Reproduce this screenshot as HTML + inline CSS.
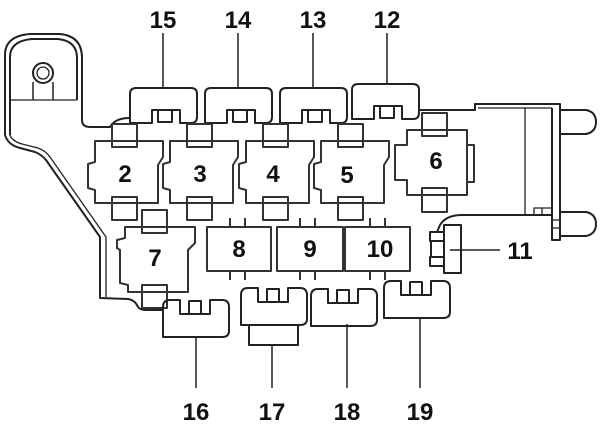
<!DOCTYPE html>
<html><head><style>
html,body{margin:0;padding:0;background:#fff;}
svg{display:block;}
text{font-family:"Liberation Sans",Arial,sans-serif;font-weight:bold;fill:#111;}
</style></head><body>
<svg width="600" height="433" viewBox="0 0 600 433" xmlns="http://www.w3.org/2000/svg">
<g fill="none" stroke="#222" stroke-width="2" stroke-linejoin="round">
<!-- left bracket -->
<path d="M5,135 L5,55 Q5,36 30,34 L60,34 Q82,36 82,58 L82,120 Q82,127 90,127 L110,127 Q115,118 130,118"/>
<path d="M10,135 L10,57 Q10,41 32,39 L58,39 Q77,41 77,58 L77,100"/>
<path d="M10,100 L77,100" stroke-width="1.3"/>
<path d="M33,100 L33,82 M53,100 L53,82" stroke-width="1.5"/>
<circle cx="43" cy="73" r="10" stroke-width="2"/>
<circle cx="43" cy="73" r="6" stroke-width="1.3"/>
<path d="M5,135 Q8,145 20,148 L35,152 Q42,155 46,160 L100,237 L100,298 L128,299 Q135,300 138,307 Q140,310 146,310 L163,310"/>
<path d="M10,135 Q12,141 22,144 L38,148 Q46,151 50,157 L106,237 L106,297" stroke-width="1.3"/>
<!-- connector right -->
<path d="M419,110 L475,110 L475,104 L560,104 L560,240 L552,240 L552,108"/>
<path d="M478,108 L552,108" stroke-width="1.3"/>
<path d="M525,108 L525,215" stroke-width="1.3"/>
<path d="M552,215 L462,215 Q446,215 440,225 L437,232"/>
<path d="M560,110 L586,110 Q596,112 596,122 Q596,132 586,134 L560,134"/>
<path d="M560,212 L586,212 Q596,214 596,224 Q596,234 586,236 L560,236"/>
<path d="M534,215 L534,208 L552,208 M542,208 L542,215 M552,220 L560,220 M552,228 L560,228" stroke-width="1.3"/>
<!-- 11 -->
<rect x="444" y="225" width="17" height="48"/>
<rect x="430" y="232" width="14" height="9"/>
<rect x="430" y="257" width="14" height="9"/>
<path d="M431,241 L431,257"/>
<path d="M450,250 L500,250" stroke-width="1.5"/>
<!-- top fuses -->
<g id="tf">
<path d="M130,123 L130,94 Q130,88 136,88 L191,88 Q197,88 197,94 L197,117 Q197,123 191,123 L180,123 L180,110 L152,110 L152,123 Z"/>
<path d="M158,110 L158,122 L172,122 L172,110"/>
</g>
<use href="#tf" x="75"/>
<use href="#tf" x="150"/>
<use href="#tf" x="222" y="-4"/>
<path d="M163,33 L163,88 M238,33 L238,88 M313,33 L313,88 M387,33 L387,84" stroke-width="1.5"/>
<!-- relays 2,3,4,5 -->
<g id="rl">
<path d="M95,141 L163,141 L163,157 L158,165 L158,203 L95,203 L95,190 L88,188 L88,164 L95,162 Z" stroke="#333"/>
<rect x="112" y="124" width="25" height="23" stroke="#333"/>
<rect x="112" y="197" width="25" height="23" stroke="#333"/>
</g>
<use href="#rl" x="75"/>
<use href="#rl" x="151"/>
<use href="#rl" x="226"/>
<!-- relay 6 -->
<path d="M407,130 L467,130 L467,195 L407,195 L407,180 L395,180 L395,145 L407,145 Z" stroke="#333"/>
<rect x="422" y="113" width="25" height="23" stroke="#333"/>
<rect x="422" y="188" width="25" height="24" stroke="#333"/>
<rect x="467" y="145" width="7" height="37" stroke="#333"/>
<!-- relay 7 -->
<path d="M125,227 L195,227 L195,243 L188,250 L188,292 L128,292 L128,285 L120,283 L120,250 L117,248 L117,240 L125,238 Z" stroke="#333"/>
<rect x="142" y="210" width="25" height="23" stroke="#333"/>
<rect x="142" y="285" width="25" height="23" stroke="#333"/>
<!-- relays 8,9,10 -->
<rect x="207" y="227" width="64" height="44" stroke="#333"/>
<rect x="277" y="227" width="66" height="44" stroke="#333"/>
<rect x="345" y="227" width="65" height="44" stroke="#333"/>
<path d="M230,218 L230,227 M245,218 L245,227 M230,271 L230,280 M245,271 L245,280 M300,218 L300,227 M315,218 L315,227 M300,271 L300,280 M315,271 L315,280 M370,218 L370,227 M385,218 L385,227 M370,271 L370,280 M385,271 L385,280" stroke="#333"/>
<!-- bottom fuses -->
<g id="bf">
<path d="M163,337 L163,307 Q163,300 170,300 L180,300 L180,314 L210,314 L210,300 L222,300 Q229,300 229,307 L229,331 Q229,337 222,337 Z"/>
<path d="M189,314 L189,301 L201,301 L201,314"/>
</g>
<use href="#bf" x="78" y="-12"/>
<use href="#bf" x="148" y="-11"/>
<use href="#bf" x="221" y="-19"/>
<rect x="249" y="325" width="49" height="20"/>
<path d="M196,337 L196,388 M272,345 L272,388 M347,324 L347,388 M420,317 L420,388" stroke-width="1.5"/>
</g>
<g font-size="24">
<text x="163" y="28" text-anchor="middle">15</text>
<text x="238" y="28" text-anchor="middle">14</text>
<text x="313" y="28" text-anchor="middle">13</text>
<text x="387" y="28" text-anchor="middle">12</text>
<text x="125" y="182" text-anchor="middle">2</text>
<text x="200" y="182" text-anchor="middle">3</text>
<text x="273" y="182" text-anchor="middle">4</text>
<text x="347" y="183" text-anchor="middle">5</text>
<text x="436" y="169" text-anchor="middle">6</text>
<text x="155" y="266" text-anchor="middle">7</text>
<text x="239" y="257" text-anchor="middle">8</text>
<text x="310" y="257" text-anchor="middle">9</text>
<text x="380" y="257" text-anchor="middle">10</text>
<text x="520" y="259" text-anchor="middle">11</text>
<text x="196" y="420" text-anchor="middle">16</text>
<text x="272" y="420" text-anchor="middle">17</text>
<text x="347" y="420" text-anchor="middle">18</text>
<text x="420" y="420" text-anchor="middle">19</text>
</g>
</svg>
</body></html>
